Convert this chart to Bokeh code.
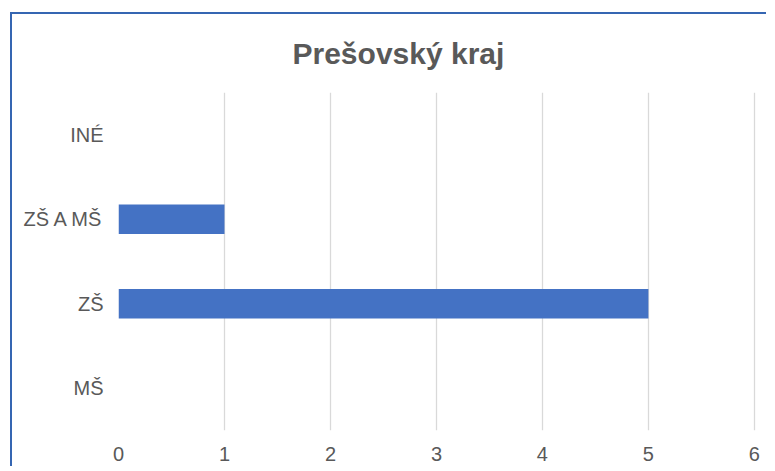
from bokeh.plotting import figure
from bokeh.models import Range1d, FixedTicker, ColumnDataSource
from bokeh.embed import file_html
from bokeh.resources import INLINE

categories = ["MŠ", "ZŠ", "ZŠ A MŠ", "INÉ"]
values = [0, 5, 1, 0]
x_ticks = [0, 1, 2, 3, 4, 5, 6]
title_text = "Prešovský kraj"

src = ColumnDataSource(dict(cat=categories, val=values))

p = figure(width=756, height=454, y_range=categories, x_range=Range1d(0, 6.02),
           output_backend="svg", toolbar_location=None,
           min_border_left=106, min_border_right=12, min_border_top=78, min_border_bottom=38)
p.styles = {"margin-left": "10px", "margin-top": "12px",
            "border-left": "2px solid #3566B2", "border-top": "2px solid #3566B2"}

p.hbar(y="cat", right="val", left=0, height=0.35, source=src,
       fill_color="#4472C4", line_color=None)

p.title.text = title_text
p.title.text_font = "Liberation Sans"
p.title.text_font_style = "bold"
p.title.text_font_size = "30px"
p.title.text_color = "#595959"
p.title.align = "left"
p.title.offset = 174
p.title.vertical_align = "top"
p.title.standoff = 42

p.outline_line_color = None
p.background_fill_color = "white"
p.border_fill_color = "white"

for ax in (p.xaxis[0], p.yaxis[0]):
    ax.axis_line_color = None
    ax.major_tick_line_color = None
    ax.minor_tick_line_color = None
    ax.major_label_text_font = "Liberation Sans"
    ax.major_label_text_font_size = "20px"
    ax.major_label_text_color = "#595959"

p.xaxis.ticker = FixedTicker(ticks=x_ticks)
p.xaxis.major_label_standoff = 10
p.yaxis.major_label_standoff = 9

p.xgrid.ticker = FixedTicker(ticks=x_ticks)
p.xgrid.grid_line_color = "#D9D9D9"
p.xgrid.grid_line_width = 1.3
p.ygrid.grid_line_color = None

open("out.html", "w").write(file_html(p, INLINE))
